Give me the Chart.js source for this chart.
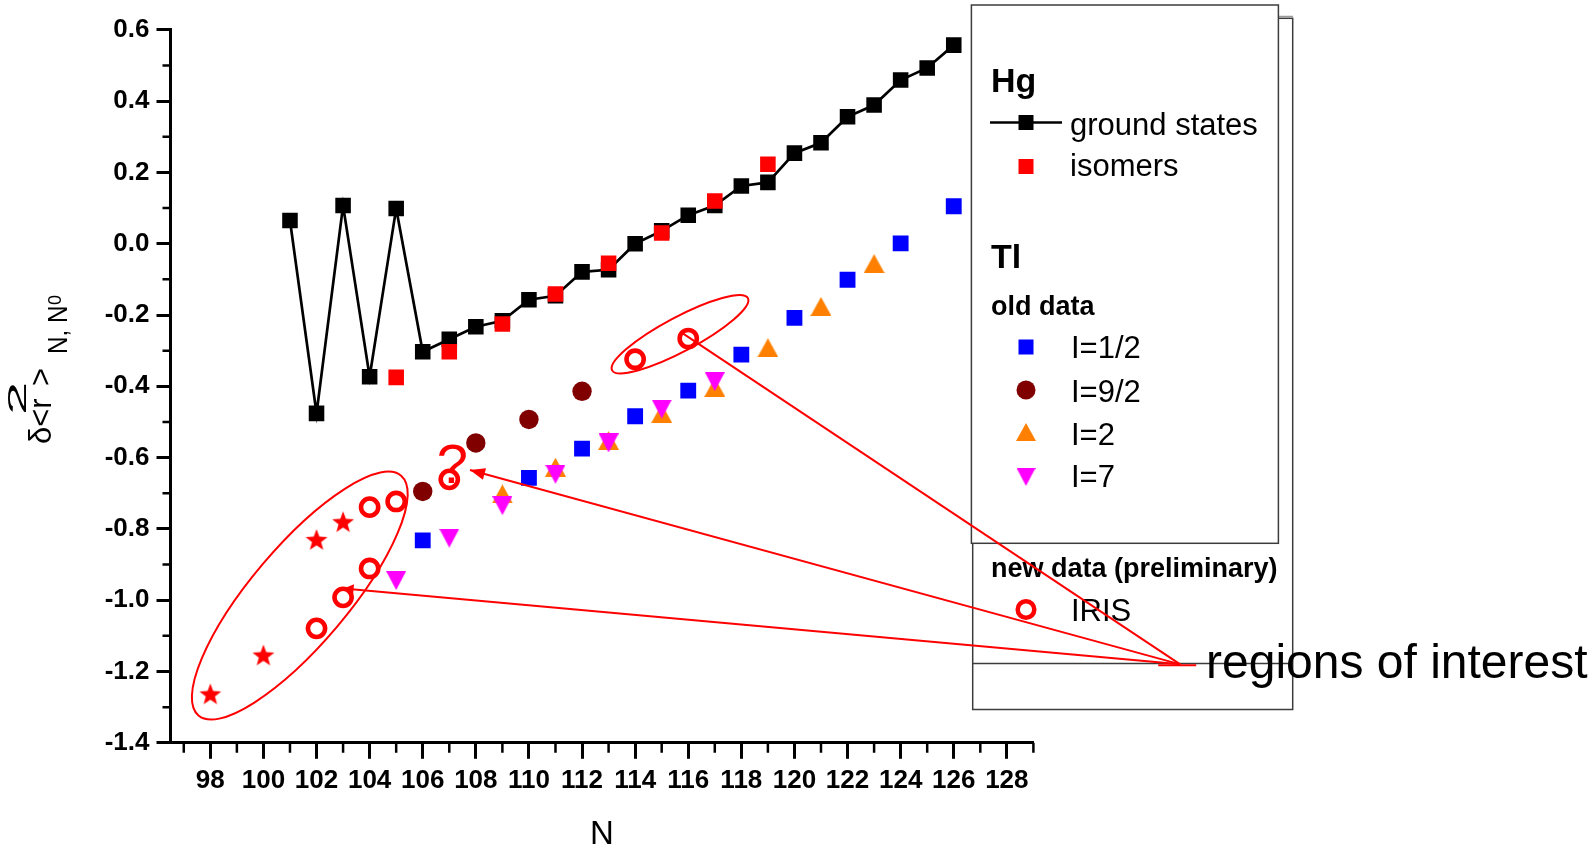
<!DOCTYPE html>
<html>
<head>
<meta charset="utf-8">
<script src="https://cdn.jsdelivr.net/npm/chart.js@4.4.1/dist/chart.umd.min.js"></script>
<style>
  html, body { margin: 0; padding: 0; background: #ffffff; }
  #wrap { width: 1596px; height: 848px; position: relative; }
  canvas { display: block; }
</style>
</head>
<body>
<div id="wrap"><canvas id="c" width="1596" height="848"></canvas></div>
<script>
const FONT = "'Liberation Sans', Arial, Helvetica, sans-serif";

// ---- Hg: change in mean-square charge radius vs neutron number ----
const hgGroundN  = [101, 102, 103, 104, 105, 106, 107, 108, 109, 110, 111, 112, 113,
                    114, 115, 116, 117, 118, 119, 120, 121, 122, 123, 124, 125, 126];
const hgGroundR2 = [0.065, -0.476, 0.107, -0.373, 0.099, -0.303, -0.268, -0.233, -0.216,
                    -0.157, -0.146, -0.079, -0.073, 0.000, 0.036, 0.080, 0.107, 0.162,
                    0.172, 0.254, 0.283, 0.356, 0.389, 0.459, 0.493, 0.557];
const hgIsomerN  = [105, 107, 109, 111, 113, 115, 117, 119];
const hgIsomerR2 = [-0.375, -0.303, -0.225, -0.141, -0.055, 0.030, 0.120, 0.223];

// ---- Tl, old data ----
const tlHalfN      = [106, 110, 112, 114, 116, 118, 120, 122, 124, 126];
const tlHalfR2     = [-0.832, -0.657, -0.575, -0.484, -0.412, -0.311, -0.208, -0.101, 0.001, 0.105];
const tlNineHalfN  = [106, 108, 110, 112];
const tlNineHalfR2 = [-0.695, -0.559, -0.493, -0.414];
const tlTwoN       = [109, 111, 113, 115, 117, 119, 121, 123];
const tlTwoR2      = [-0.702, -0.627, -0.552, -0.476, -0.403, -0.292, -0.176, -0.056];
const tlSevenN     = [105, 107, 109, 111, 113, 115, 117];
const tlSevenR2    = [-0.945, -0.826, -0.735, -0.647, -0.559, -0.464, -0.387];
const tlStarN      = [98, 100, 102, 103];
const tlStarR2     = [-1.263, -1.154, -0.830, -0.780];

// ---- Tl, new data (preliminary), IRIS ----
const irisN  = [102, 103, 104, 104, 105, 107, 114, 116];
const irisR2 = [-1.079, -0.992, -0.911, -0.739, -0.723, -0.661, -0.324, -0.266];

// ---- axis ticks ----
const xTicks      = [98, 100, 102, 104, 106, 108, 110, 112, 114, 116, 118, 120, 122, 124, 126, 128];
const xMinorTicks = [97, 99, 101, 103, 105, 107, 109, 111, 113, 115, 117, 119, 121, 123, 125, 127, 129];
const yTicks      = [-1.4, -1.2, -1.0, -0.8, -0.6, -0.4, -0.2, 0.0, 0.2, 0.4, 0.6];
const yMinorTicks = [-1.3, -1.1, -0.9, -0.7, -0.5, -0.3, -0.1, 0.1, 0.3, 0.5];

const pts = (xs, ys) => xs.map((v, i) => ({ x: v, y: ys[i] }));

// ---- custom marker sprites (centred on their bounding box) ----
function triangleSprite(color, w, h, down) {
  const c = document.createElement('canvas');
  c.width = w; c.height = h;
  const g = c.getContext('2d');
  g.fillStyle = color;
  g.beginPath();
  if (down) { g.moveTo(0, 0); g.lineTo(w, 0); g.lineTo(w / 2, h); }
  else { g.moveTo(w / 2, 0); g.lineTo(w, h); g.lineTo(0, h); }
  g.closePath();
  g.fill();
  return c;
}
function starSprite(color, R) {
  const w = Math.ceil(2 * R * Math.sin(2 * Math.PI / 5)) + 2;
  const h = Math.ceil(R * (1 + Math.cos(Math.PI / 5))) + 2;
  const c = document.createElement('canvas');
  c.width = w; c.height = h;
  const g = c.getContext('2d');
  const cx = w / 2, cy = 1 + R, r = R * 0.42;
  g.fillStyle = color;
  g.beginPath();
  for (let k = 0; k < 10; k++) {
    const rad = k % 2 === 0 ? R : r;
    const a = -Math.PI / 2 + k * Math.PI / 5;
    const px = cx + rad * Math.cos(a), py = cy + rad * Math.sin(a);
    if (k === 0) g.moveTo(px, py); else g.lineTo(px, py);
  }
  g.closePath();
  g.fill();
  return c;
}
const upOrange   = triangleSprite('#ff8000', 21, 19, false);
const downPink   = triangleSprite('#ff00ff', 20, 19, true);
const redStar    = starSprite('#ff0000', 11.5);
const upOrangeSm = triangleSprite('#ff8000', 20, 18, false);
const downPinkSm = triangleSprite('#ff00ff', 19, 18, true);

// ---- axis decorations: minor ticks and the y-axis title ----
function drawMinorTicks(chart) {
  const { ctx, chartArea, scales: { x, y } } = chart;
  ctx.save();
  ctx.strokeStyle = '#000';
  ctx.lineWidth = 2.5;
  ctx.beginPath();
  for (const v of xMinorTicks) {
    const px = x.getPixelForValue(v);
    ctx.moveTo(px, chartArea.bottom);
    ctx.lineTo(px, chartArea.bottom + 10);
  }
  for (const v of yMinorTicks) {
    const py = y.getPixelForValue(v);
    ctx.moveTo(chartArea.left, py);
    ctx.lineTo(chartArea.left - 8, py);
  }
  ctx.stroke();
  ctx.restore();
}

function drawYTitle(chart) {
  const ctx = chart.ctx;
  ctx.save();
  ctx.translate(51, 445);
  ctx.rotate(-Math.PI / 2);
  ctx.fillStyle = '#000';
  ctx.textAlign = 'left';
  ctx.textBaseline = 'alphabetic';
  ctx.font = `31px ${FONT}`;
  ctx.fillText('\u03b4<r', 1, 0);
  // superscript 2
  ctx.save();
  ctx.translate(30, -25);
  ctx.scale(2.4, 1);
  ctx.font = `25px ${FONT}`;
  ctx.fillText('2', 0, 0);
  ctx.restore();
  ctx.font = `31px ${FONT}`;
  ctx.fillText('>', 59, 0);
  // subscript N, N0
  ctx.save();
  ctx.translate(91, 16);
  ctx.scale(0.9, 1);
  ctx.font = `27px ${FONT}`;
  ctx.fillText('N, N', 0, 0);
  ctx.restore();
  ctx.font = `18px ${FONT}`;
  ctx.fillText('0', 140, 10);
  ctx.restore();
}

// ---- boxed legend ----
function legendSquare(ctx, color, cx, cy, s) {
  ctx.fillStyle = color;
  ctx.fillRect(cx - s / 2, cy - s / 2, s, s);
}
function legendSprite(ctx, sprite, cx, cy) {
  ctx.drawImage(sprite, cx - sprite.width / 2, cy - sprite.height / 2);
}
function drawLegend(chart) {
  const ctx = chart.ctx;
  ctx.save();
  ctx.lineWidth = 1.5;
  ctx.strokeStyle = '#3c3c3c';
  // rear frame with divider
  ctx.fillStyle = '#fff';
  ctx.fillRect(972.7, 18.3, 320, 691.2);
  ctx.strokeRect(972.7, 18.3, 320, 691.2);
  ctx.strokeStyle = '#9a9a9a';
  ctx.beginPath();
  ctx.moveTo(1278, 16.5);
  ctx.lineTo(1293, 16.5);
  ctx.stroke();
  ctx.strokeStyle = '#3c3c3c';
  ctx.beginPath();
  ctx.moveTo(972.7, 663.5);
  ctx.lineTo(1292.7, 663.5);
  ctx.stroke();
  // front frame
  ctx.fillRect(971.4, 5, 307, 538.3);
  ctx.strokeRect(971.4, 5, 307, 538.3);

  ctx.fillStyle = '#000';
  ctx.textAlign = 'left';
  ctx.textBaseline = 'alphabetic';

  ctx.font = `bold 34px ${FONT}`;
  ctx.fillText('Hg', 991, 92);
  ctx.fillText('Tl', 991, 268);
  ctx.font = `bold 27px ${FONT}`;
  ctx.fillText('old data', 991, 315);
  ctx.fillText('new data (preliminary)', 991, 577);

  ctx.font = `31px ${FONT}`;
  ctx.fillText('ground states', 1070, 135);
  ctx.fillText('isomers', 1070, 176);
  ctx.fillText('I=1/2', 1071, 358);
  ctx.fillText('I=9/2', 1071, 401.5);
  ctx.fillText('I=2', 1071, 445);
  ctx.fillText('I=7', 1071, 487);
  ctx.fillText('IRIS', 1071, 620.5);

  // symbols
  ctx.strokeStyle = '#000';
  ctx.lineWidth = 2.5;
  ctx.beginPath();
  ctx.moveTo(990, 122.5);
  ctx.lineTo(1062, 122.5);
  ctx.stroke();
  legendSquare(ctx, '#000', 1026, 122.5, 15);
  legendSquare(ctx, '#ff0000', 1026, 166.5, 15);
  legendSquare(ctx, '#0000ff', 1026, 347, 15);
  ctx.fillStyle = '#800000';
  ctx.beginPath();
  ctx.arc(1026, 390, 9.5, 0, Math.PI * 2);
  ctx.fill();
  legendSprite(ctx, upOrangeSm, 1026, 432);
  legendSprite(ctx, downPinkSm, 1026, 477);
  ctx.strokeStyle = '#ff0000';
  ctx.lineWidth = 4.5;
  ctx.beginPath();
  ctx.arc(1026, 609.5, 8.3, 0, Math.PI * 2);
  ctx.stroke();
  ctx.restore();
}

// ---- highlighted regions, pointer lines and their caption ----
const regionEllipses = [
  { n: 101.37, v: -0.987, rx: 157, ry: 48.6, rot: -49.8 },
  { n: 115.69, v: -0.254, rx: 76.9, ry: 17.2, rot: -28 }
];
const pointerHub = { n: 134.53, v: -1.180 };
const pointers = [
  { n: 115.78, v: -0.251, head: 0, half: 0 },
  { n: 107.78, v: -0.635, head: 15, half: 6 },
  { n: 103.02, v: -0.967, head: 10, half: 5 }
];

function drawRegions(chart) {
  const { ctx, scales: { x, y } } = chart;
  const P = (n, v) => [x.getPixelForValue(n), y.getPixelForValue(v)];
  ctx.save();
  ctx.strokeStyle = '#ff0000';
  ctx.fillStyle = '#ff0000';
  ctx.lineWidth = 2;
  for (const e of regionEllipses) {
    const [cx, cy] = P(e.n, e.v);
    ctx.beginPath();
    ctx.ellipse(cx, cy, e.rx, e.ry, e.rot * Math.PI / 180, 0, Math.PI * 2);
    ctx.stroke();
  }
  const [hx, hy] = P(pointerHub.n, pointerHub.v);
  for (const p of pointers) {
    const [tx, ty] = P(p.n, p.v);
    ctx.beginPath();
    ctx.moveTo(hx, hy);
    ctx.lineTo(tx, ty);
    ctx.stroke();
    if (p.head > 0) {
      const d = Math.hypot(hx - tx, hy - ty);
      const ux = (hx - tx) / d, uy = (hy - ty) / d;
      const bx = tx + ux * p.head, by = ty + uy * p.head;
      ctx.beginPath();
      ctx.moveTo(tx, ty);
      ctx.lineTo(bx - uy * p.half, by + ux * p.half);
      ctx.lineTo(bx + uy * p.half, by - ux * p.half);
      ctx.closePath();
      ctx.fill();
    }
  }
  ctx.beginPath();
  ctx.moveTo(hx - 22, hy + 1);
  ctx.lineTo(hx + 16, hy + 1);
  ctx.stroke();

  // question mark over the N=107 IRIS point
  const [qx, qy] = P(irisN[5], irisR2[5]);
  ctx.font = `56px ${FONT}`;
  ctx.textAlign = 'center';
  ctx.textBaseline = 'alphabetic';
  ctx.fillText('?', qx + 3, qy + 4);

  ctx.fillStyle = '#000';
  ctx.textAlign = 'left';
  ctx.font = `48px ${FONT}`;
  ctx.fillText('regions of interest', 1206, 678);
  ctx.restore();
}

const decorations = {
  id: 'decorations',
  beforeDatasetsDraw(chart) { drawMinorTicks(chart); },
  afterDraw(chart) {
    drawYTitle(chart);
    drawLegend(chart);
    drawRegions(chart);
  }
};

new Chart(document.getElementById('c'), {
  type: 'scatter',
  data: {
    datasets: [
      { label: 'Hg ground states', data: pts(hgGroundN, hgGroundR2), showLine: true,
        borderColor: '#000', borderWidth: 2.7, backgroundColor: '#000',
        pointStyle: 'rect', pointRadius: 11, pointBorderWidth: 0, order: 10 },
      { label: 'Hg isomers', data: pts(hgIsomerN, hgIsomerR2),
        backgroundColor: '#ff0000', borderColor: '#ff0000',
        pointStyle: 'rect', pointRadius: 11, pointBorderWidth: 0, order: 9 },
      { label: 'Tl I=1/2', data: pts(tlHalfN, tlHalfR2),
        backgroundColor: '#0000ff', borderColor: '#0000ff',
        pointStyle: 'rect', pointRadius: 11.2, pointBorderWidth: 0, order: 8 },
      { label: 'Tl I=9/2', data: pts(tlNineHalfN, tlNineHalfR2),
        backgroundColor: '#800000', borderColor: '#800000',
        pointStyle: 'circle', pointRadius: 9.7, pointBorderWidth: 0, order: 7 },
      { label: 'Tl I=2', data: pts(tlTwoN, tlTwoR2),
        backgroundColor: '#ff8000', borderColor: '#ff8000',
        pointStyle: upOrange, pointRadius: 10, pointBorderWidth: 0, order: 6 },
      { label: 'Tl I=7', data: pts(tlSevenN, tlSevenR2),
        backgroundColor: '#ff00ff', borderColor: '#ff00ff',
        pointStyle: downPink, pointRadius: 10, pointBorderWidth: 0, order: 5 },
      { label: 'Tl', data: pts(tlStarN, tlStarR2),
        backgroundColor: '#ff0000', borderColor: '#ff0000',
        pointStyle: redStar, pointRadius: 10, pointBorderWidth: 0, order: 4 },
      { label: 'IRIS', data: pts(irisN, irisR2),
        backgroundColor: 'rgba(0,0,0,0)', borderColor: '#ff0000',
        pointStyle: 'circle', pointRadius: 8.6, pointBorderWidth: 4.6, order: 3 }
    ]
  },
  options: {
    responsive: false,
    animation: false,
    devicePixelRatio: 1,
    layout: { padding: { left: 0, top: 29.8, right: 562.6, bottom: 0 } },
    plugins: { legend: { display: false }, tooltip: { enabled: false } },
    scales: {
      x: {
        type: 'linear', min: 96.5, max: 129,
        afterBuildTicks: s => { s.ticks = xTicks.map(v => ({ value: v })); },
        afterFit: s => { s.height = 105.2; },
        grid: { display: true, drawOnChartArea: false, drawTicks: true,
                tickLength: 16, tickWidth: 3, tickColor: '#000' },
        border: { display: true, width: 3, color: '#000' },
        ticks: { font: { family: FONT, size: 26, weight: 'bold' }, color: '#000', padding: 6,
                 maxRotation: 0, autoSkip: false, callback: v => String(v) },
        title: { display: true, text: 'N', color: '#000',
                 font: { family: FONT, size: 33 }, padding: { top: 0, bottom: -7 } }
      },
      y: {
        type: 'linear', min: -1.4, max: 0.6,
        afterBuildTicks: s => { s.ticks = yTicks.map(v => ({ value: v })); },
        afterFit: s => { s.width = 170.5; },
        grid: { display: true, drawOnChartArea: false, drawTicks: true,
                tickLength: 14, tickWidth: 3, tickColor: '#000' },
        border: { display: true, width: 3, color: '#000' },
        ticks: { font: { family: FONT, size: 26, weight: 'bold' }, color: '#000', padding: 7,
                 autoSkip: false, callback: v => Number(v).toFixed(1) },
        title: { display: false }
      }
    }
  },
  plugins: [decorations]
});
</script>
</body>
</html>
